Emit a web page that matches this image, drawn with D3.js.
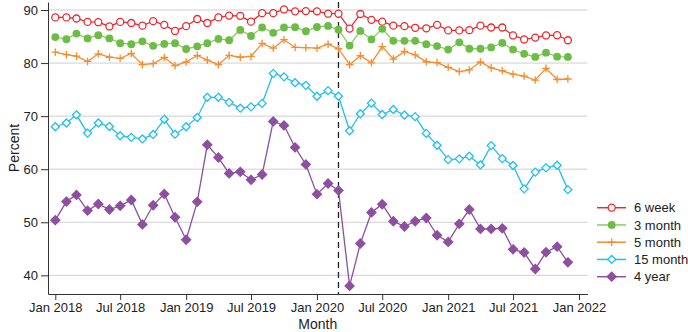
<!DOCTYPE html>
<html>
<head>
<meta charset="utf-8">
<script src="https://cdn.jsdelivr.net/npm/d3@7"></script>
<style>
  body { margin: 0; background: #fff; }
  svg { display: block; font-family: "Liberation Sans", Arial, sans-serif; }
  .grid line { stroke: #cfcfcf; stroke-width: 1; }
  .axis path, .axis line { stroke: #333; }
  .axis text { fill: #222; font-size: 13px; }
</style>
</head>
<body>
<script>
var width = 688;
var height = 332;

// one value per month, Jan 2018 .. Dec 2021
var sixWeek = [88.6, 88.6, 88.4, 87.75, 87.7, 86.9, 87.75, 87.55, 87.05, 87.9, 87.2, 86.05,
  86.95, 88.3, 87.55, 88.6, 88.95, 88.9, 87.8, 89.4, 89.4, 90.1, 89.75, 89.8,
  89.75, 89.3, 89.3, 86.5, 89.25, 88.15, 87.8, 87.05, 86.95, 86.65, 86.55, 87.2,
  86.15, 86.15, 86.2, 87.05, 86.7, 86.7, 85.2, 84.45, 84.8, 85.2, 85.25, 84.3];
var threeMonth = [84.9, 84.5, 85.55, 84.65, 85.25, 84.65, 83.75, 83.55, 84.1, 83.25, 83.6, 83.75,
  82.65, 83.15, 83.75, 84.55, 84.3, 86.25, 85.1, 86.7, 85.7, 86.7, 86.75, 86.0,
  86.8, 87.0, 86.3, 83.3, 86.05, 84.45, 86.45, 84.2, 84.2, 84.2, 83.55, 83.2,
  82.55, 83.9, 82.7, 82.7, 82.95, 83.8, 82.55, 81.75, 81.15, 81.95, 81.2, 81.15];
var fiveMonth = [82.05, 81.6, 81.3, 80.3, 81.75, 81.1, 80.9, 81.8, 79.7, 79.9, 81.05, 79.5,
  80.2, 81.45, 80.55, 79.7, 81.45, 81.1, 81.25, 83.7, 82.8, 84.4, 82.95, 82.9,
  82.8, 83.55, 82.7, 79.7, 81.4, 80.05, 83.1, 80.75, 82.2, 81.55, 80.25, 80.1,
  79.2, 78.4, 78.7, 80.2, 79.1, 78.55, 77.9, 77.55, 76.8, 79.0, 76.9, 77.0];
var fifteenMonth = [68.0, 68.7, 70.25, 66.8, 68.7, 68.05, 66.3, 66.0, 65.7, 66.55, 69.4, 66.6,
  68.0, 69.75, 73.55, 73.55, 72.6, 71.5, 71.75, 72.4, 78.05, 77.4, 76.3, 75.8,
  73.75, 74.8, 73.75, 67.25, 70.45, 72.45, 70.3, 71.25, 70.2, 69.9, 66.75, 64.5,
  61.8, 61.95, 62.45, 60.8, 64.45, 62.0, 60.7, 56.3, 59.45, 60.25, 60.75, 56.15];
var fourYear = [50.4, 53.9, 55.15, 52.2, 53.45, 52.4, 53.1, 54.2, 49.6, 53.2, 55.35, 50.95,
  46.7, 53.85, 64.6, 62.2, 59.2, 59.5, 58.0, 59.0, 69.0, 68.25, 64.1, 60.9,
  55.3, 57.3, 56.0, 38.0, 46.0, 51.85, 53.4, 50.2, 49.2, 50.2, 50.8, 47.55,
  46.3, 49.7, 52.4, 48.75, 48.75, 48.85, 44.9, 44.3, 41.2, 44.35, 45.4, 42.45];

var seriesNames = ['6 week', '3 month', '5 month', '15 month', '4 year'];
var seriesValues = [sixWeek, threeMonth, fiveMonth, fifteenMonth, fourYear];
var yTicks = [40, 50, 60, 70, 80, 90];
var breakMonth = new Date(2020, 2, 1);

var styles = [
  { line: '#ec2a30', fill: '#fff', stroke: '#ec2a30', shape: 'circle' },
  { line: '#8dca63', fill: '#6cbd45', stroke: '#6cbd45', shape: 'dot' },
  { line: '#f88c2c', fill: 'none', stroke: '#f88c2c', shape: 'plus' },
  { line: '#21bff0', fill: '#fff', stroke: '#21bff0', shape: 'diamond' },
  { line: '#8d509e', fill: '#8d509e', stroke: '#8d509e', shape: 'diamondFill' }
];

var months = d3.range(48).map(function(i) { return new Date(2018, i, 1); });

var plotLeft = 48, plotRight = 587.5, plotTop = 2, plotBottom = 294;

var x = d3.scaleTime()
  .domain([new Date(2018, 0, 1), new Date(2022, 0, 1)])
  .range([55.3, 579]);
x.domain([x.invert(plotLeft), x.invert(plotRight)]).range([plotLeft, plotRight]);

var y = d3.scaleLinear()
  .domain([90 + (10 - plotTop) / 5.3067, 90 - (plotBottom - 10) / 5.3067])
  .range([plotTop, plotBottom]);

var svg = d3.select('body').append('svg')
  .attr('width', width)
  .attr('height', height);

// grid
svg.append('g').attr('class', 'grid')
  .selectAll('line').data(yTicks).enter().append('line')
  .attr('x1', plotLeft).attr('x2', plotRight)
  .attr('y1', function(d) { return y(d); })
  .attr('y2', function(d) { return y(d); });

// axes
svg.append('g').attr('class', 'axis')
  .attr('transform', 'translate(' + plotLeft + ',0)')
  .call(d3.axisLeft(y).tickValues(yTicks).tickSize(7).tickSizeOuter(0).tickPadding(3));

svg.append('g').attr('class', 'axis')
  .attr('transform', 'translate(0,' + plotBottom + ')')
  .call(d3.axisBottom(x).ticks(d3.timeMonth.every(6)).tickFormat(d3.timeFormat('%b %Y'))
    .tickSize(6).tickSizeOuter(0).tickPadding(3));

svg.append('text')
  .attr('transform', 'translate(14,' + ((plotTop + plotBottom) / 2) + ') rotate(-90)')
  .attr('text-anchor', 'middle')
  .attr('dy', '0.35em')
  .style('font-size', '14px').style('fill', '#222')
  .text('Percent');

svg.append('text')
  .attr('x', (plotLeft + plotRight) / 2)
  .attr('y', 329)
  .attr('text-anchor', 'middle')
  .style('font-size', '14px').style('fill', '#222')
  .text('Month');

// break line
svg.append('line')
  .attr('x1', x(breakMonth)).attr('x2', x(breakMonth))
  .attr('y1', plotTop).attr('y2', plotBottom)
  .attr('stroke', '#222').attr('stroke-width', 1.3)
  .attr('stroke-dasharray', '6,4');

function drawMarker(g, st, cx, cy) {
  if (st.shape == 'circle') {
    g.append('circle').attr('cx', cx).attr('cy', cy).attr('r', 3.5)
      .attr('fill', st.fill).attr('stroke', st.stroke).attr('stroke-width', 1.3);
  } else if (st.shape == 'dot') {
    g.append('circle').attr('cx', cx).attr('cy', cy).attr('r', 3.9)
      .attr('fill', st.fill);
  } else if (st.shape == 'plus') {
    g.append('path')
      .attr('d', 'M' + (cx - 3.8) + ',' + cy + 'H' + (cx + 3.8) + 'M' + cx + ',' + (cy - 3.8) + 'V' + (cy + 3.8))
      .attr('stroke', st.stroke).attr('stroke-width', 1.3).attr('fill', 'none');
  } else {
    var r = st.shape == 'diamond' ? 4 : 4.5;
    g.append('path')
      .attr('d', 'M' + cx + ',' + (cy - r) + 'L' + (cx + r) + ',' + cy + 'L' + cx + ',' + (cy + r) + 'L' + (cx - r) + ',' + cy + 'Z')
      .attr('fill', st.fill).attr('stroke', st.stroke).attr('stroke-width', 1.3);
  }
}

var line = d3.line()
  .x(function(d, i) { return x(months[i]); })
  .y(function(d) { return y(d); });

seriesValues.forEach(function(vals, s) {
  var st = styles[s];
  var g = svg.append('g');
  g.append('path')
    .attr('d', line(vals))
    .attr('fill', 'none')
    .attr('stroke', st.line)
    .attr('stroke-width', 1.3);
  vals.forEach(function(v, i) {
    drawMarker(g, st, x(months[i]), y(v));
  });
});

// legend
var legend = svg.append('g');
seriesNames.forEach(function(name, s) {
  var ly = 207.7 + s * 17.25;
  var st = styles[s];
  legend.append('line')
    .attr('x1', 597).attr('x2', 626)
    .attr('y1', ly).attr('y2', ly)
    .attr('stroke', st.line).attr('stroke-width', 1.5);
  drawMarker(legend, st, 611.7, ly);
  legend.append('text')
    .attr('x', 634).attr('y', ly).attr('dy', '0.35em')
    .style('font-size', '13px').style('fill', '#222')
    .text(name);
});
</script>
</body>
</html>
